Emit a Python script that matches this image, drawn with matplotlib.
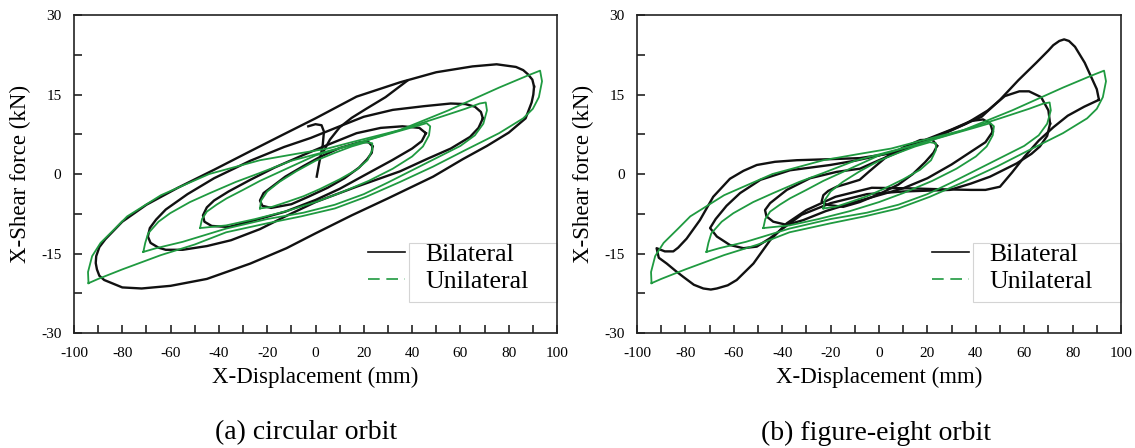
import matplotlib
matplotlib.use('Agg')
import matplotlib.pyplot as plt
from matplotlib.lines import Line2D
from matplotlib.patches import Rectangle
from matplotlib.ticker import MultipleLocator

plt.rcParams['font.family'] = 'Liberation Serif'
plt.rcParams['axes.unicode_minus'] = False

# ---------------------------------------------------------------
# data (displacement mm, shear force kN)
# ---------------------------------------------------------------

# (a) circular orbit, bilateral loops
a_bi1_x = [23.6, 22, 18.4, 10, 2.2, -5, -12.5, -18, -21.5, -23, -22, -18.4, -10, -3, 5, 12, 18, 21.4, 23.3, 23.6]
a_bi1_y = [5.2, 6, 6, 4.9, 3.3, 1.5, -0.5, -2.4, -3.6, -5, -6, -6.4, -5.7, -4.3, -2.6, -0.8, 1.2, 2.8, 4, 5.2]

a_bi2_x = [45.7, 43, 36, 27, 17, 5, -5, -17, -27, -36, -42, -45, -46.6, -46, -43, -36, -25, -12.5, 0, 10, 20,
           31.7, 40, 44, 45.7]
a_bi2_y = [7.7, 8.7, 9, 8.7, 7.7, 5.5, 3.6, 1.2, -1.1, -3.3, -5, -6.3, -7.8, -9, -9.8, -10, -8.7, -7.1, -4.9, -2.8,
           -0.3, 2.6, 4.8, 6.2, 7.7]

a_bi3_x = [69.3, 68.5, 66, 62, 56, 45, 32, 20, 10, -2, -13, -27, -42, -53, -62, -66, -68.6, -69.4, -68.3, -65,
           -62, -55, -45, -35, -23, -12.5, 0, 17, 35, 46, 56, 64, 67.5, 69.3]
a_bi3_y = [10.5, 11.7, 12.7, 13.2, 13.3, 12.8, 12.1, 10.8, 9, 6.8, 5.1, 2.5, -0.8, -3.8, -6.7, -8.6, -10.2, -11.8,
           -13, -13.9, -14.3, -14.3, -13.6, -12.5, -10.4, -8, -5.3, -2.4, 0.5, 2.8, 4.8, 7, 8.7, 10.5]

a_bi4_x = [90.5, 89.8, 88, 86, 83, 75, 65, 50, 35, 17, 0, -14, -27, -42, -57, -70, -80, -87, -89.5, -90.8, -91,
           -90.5, -89.5, -87.5, -80, -72, -60, -45, -27, -12, 0, 15, 30, 48.7, 61, 71, 80, 87, 89.5, 90.2, 90.5]
a_bi4_y = [16.5, 17.8, 18.8, 19.6, 20.2, 20.7, 20.3, 19.2, 17.3, 14.6, 10.5, 7.3, 4.3, 0.8, -2.6, -5.8, -9, -12.3,
           -13.8, -15.5, -16.8, -18, -19.2, -20, -21.4, -21.6, -21.1, -19.8, -16.9, -14, -11.2, -7.8, -4.6, -0.5,
           2.8, 5.3, 7.8, 10.5, 13.5, 15, 16.5]

# transition paths near the origin
a_tr1_x = [0.5, 1.5, 3, 3.5, 2.5, 0, -3]
a_tr1_y = [-0.5, 2, 5.5, 8, 9.2, 9.4, 9]
a_tr2_x = [3, 6, 10, 15, 21, 29, 38]
a_tr2_y = [4, 6.5, 8.8, 10.6, 12.3, 14.5, 17.6]

# (b) figure-eight orbit, bilateral loops
b_bi1_x = [24, 22, 17, 10, 3, -4, -8, -13, -17.5, -21, -23, -23.7, -21.6, -14.8, -8, 0, 8, 14, 19, 22.5, 24]
b_bi1_y = [5.3, 6.5, 6.4, 5, 3.2, 0.5, -1.1, -1.8, -2.4, -3.2, -4, -5.2, -5.8, -6.2, -5.3, -3.8, -2, 0, 2.2, 4, 5.3]

b_bi2_x = [47, 46, 43, 38, 30, 20, 10, 0, -7.9, -17.5, -28.5, -38.1, -45, -47.1, -46.5, -43.7, -38.1, -31.3,
           -22, -10, 0, 10, 20, 30, 38, 44, 47]
b_bi2_y = [8, 9.5, 10.3, 10, 8.4, 6.6, 4.5, 2.6, 1, 0.4, -0.8, -3, -5.5, -6.8, -8, -9, -9.6, -8.7,
           -7, -5.3, -4, -2.7, -0.8, 1.8, 4.2, 6, 8]

b_bi3_x = [70.7, 70, 67, 62, 58, 52, 45, 36, 25, 12, 0, -10, -20.2, -36.8, -49, -57.4, -63, -67.5, -69.8, -67,
           -61.6, -56, -50.5, -45, -39.5, -32, -20, -5, 10, 29.3, 38, 45.9, 56.9, 63, 66.5, 69.5, 70.7]
b_bi3_y = [9.5, 12, 14.5, 15.6, 15.6, 14.7, 12, 9.5, 7.2, 5, 3.5, 2.5, 1.7, 0.7, -1.1, -3.6, -6, -8.5, -10.2, -11.8,
           -13.4, -14, -13.7, -12.1, -10.2, -7.7, -5.5, -3.8, -3.3, -3, -1.8, -0.5, 2, 3.8, 5.2, 7.2, 9.5]

b_bi4_x = [90.9, 90, 88.5, 85, 81, 78.5, 76.5, 74.5, 72, 70, 65, 57.6, 50, 42.4, 33, 20, 5, -7.9, -20, -34,
           -43, -50.5, -56, -61.6, -68.5, -74, -79.5, -83, -85, -88.5, -91.9, -91, -87.7, -84, -80.9, -76.5,
           -72.6, -69.5, -67, -62.5, -58.8, -51.9, -45, -38.1, -30, -18, -3, 12, 27, 38, 44, 50, 55, 60, 66, 72,
           78, 84.8, 90.9]
b_bi4_y = [14, 16, 17.5, 21, 24, 25.1, 25.4, 25.1, 24.3, 23.3, 21, 17.7, 14, 10.8, 8.9, 6.4, 3.9, 3, 2.8, 2.6,
           2.3, 1.7, 0.6, -0.9, -4.3, -8.7, -12.2, -13.9, -14.6, -14.6, -14, -15.8, -16.9, -18.3, -19.4, -20.9,
           -21.6, -21.8, -21.6, -21, -20, -16.9, -12.5, -9.3, -6.8, -4.3, -2.6, -2.7, -2.9, -3, -3, -2.4, 0.3,
           3.2, 6.3, 8.8, 11, 12.7, 14]

# unilateral loops (same test in both panels)
uni1_x = [-23, -22.5, -20, -15, -8, 0, 8, 15, 21, 23.5, 23.5, 21.5, 17, 10, 2, -5, -12, -18, -23]
uni1_y = [-6.5, -5, -3.3, -1.5, 0.5, 2.5, 4, 5.2, 6, 5.8, 4.5, 2.6, 0.8, -1, -2.8, -4.2, -5.3, -6.2, -6.5]

uni2_x = [-47.8, -47, -45, -41, -36.8, -30, -23, -12, 0, 15, 30, 40, 46, 47.5, 47, 44.5, 40, 32, 22, 10,
          0, -12, -25, -37, -47.8]
uni2_y = [-10.2, -8.5, -7.1, -5.8, -4.6, -3, -1.3, 1, 3.5, 5.5, 7.5, 8.8, 9.6, 9, 7.3, 5.2, 3.3, 1, -1.3, -3.6,
          -5.3, -7, -8.5, -9.7, -10.2]

uni3_x = [-71.3, -70.5, -69.3, -65, -60.2, -52, -43.7, -33, -23, -10, 0, 15, 35, 50, 62, 68, 70.5, 71, 69.5, 66,
          60, 50, 40, 30, 20, 8, -5, -20, -37, -55, -66, -71.3]
uni3_y = [-14.7, -13, -11.2, -9, -7.4, -5.3, -3.6, -1.5, 0.2, 2.5, 3.7, 5.5, 8.3, 10.5, 12.3, 13.3, 13.5, 12, 9.5,
          7.3, 5.3, 3, 0.7, -1.6, -3.8, -5.8, -7.3, -8.5, -10.3, -12.8, -14, -14.7]

uni4_x = [-94, -94.2, -92.5, -89, -83, -78, -64, -44, -23, -8, 5, 15, 35, 55, 76, 88, 93, 93.8, 92.5, 90, 86,
          76, 62, 48.7, 35, 21, 8, -6, -20, -37, -50, -64, -80, -90, -94]
uni4_y = [-20.6, -18.5, -15.5, -13, -10.3, -8, -4, 0, 2.6, 3.8, 4.8, 6, 8.3, 12, 16.3, 18.6, 19.5, 17.5, 14.5,
          12.3, 10.5, 7.7, 4.5, 1.4, -1.5, -4.3, -6.5, -8, -9.3, -11, -13.3, -15.3, -18, -19.8, -20.6]

series_labels = ['Bilateral', 'Unilateral']
captions = ['(a) circular orbit', '(b) figure-eight orbit']

#%%
# ---------------------------------------------------------------
# plot
# ---------------------------------------------------------------
black = '#111111'
green = '#1f9a40'

fig = plt.figure(figsize=(11.35, 4.48), dpi=100)
ax_a = fig.add_axes([74 / 1135, 1 - 333 / 448, 483 / 1135, 318 / 448])
ax_b = fig.add_axes([637 / 1135, 1 - 333 / 448, 484 / 1135, 318 / 448])

bil_a = [(a_bi1_x, a_bi1_y), (a_bi2_x, a_bi2_y), (a_bi3_x, a_bi3_y), (a_bi4_x, a_bi4_y),
         (a_tr1_x, a_tr1_y), (a_tr2_x, a_tr2_y)]
bil_b = [(b_bi1_x, b_bi1_y), (b_bi2_x, b_bi2_y), (b_bi3_x, b_bi3_y), (b_bi4_x, b_bi4_y)]
uni = [(uni1_x, uni1_y), (uni2_x, uni2_y), (uni3_x, uni3_y), (uni4_x, uni4_y)]

for ax, bil in [(ax_a, bil_a), (ax_b, bil_b)]:
    for xs, ys in bil:
        ax.plot(xs, ys, color=black, lw=1.7, solid_joinstyle='round')
    for xs, ys in uni:
        ax.plot(xs, ys, color=green, lw=1.3, solid_joinstyle='round')

    ax.set_xlim(-100, 100)
    ax.set_ylim(-30, 30)
    ax.xaxis.set_major_locator(MultipleLocator(20))
    ax.xaxis.set_minor_locator(MultipleLocator(10))
    ax.yaxis.set_major_locator(MultipleLocator(15))
    ax.yaxis.set_minor_locator(MultipleLocator(7.5))
    ax.tick_params(which='both', direction='in', length=6, width=1.2, top=False, right=False,
                   color='#222222', labelsize=11)
    ax.tick_params(axis='x', pad=10)
    ax.tick_params(axis='y', pad=9)
    for s in ax.spines.values():
        s.set_linewidth(1.2)
        s.set_color('#222222')

    ax.set_xlabel('X-Displacement (mm)', fontsize=16.5)
    ax.set_ylabel('X-Shear force (kN)', fontsize=16.5)
    ax.xaxis.set_label_coords(0.5, -0.105)
    ax.yaxis.set_label_coords(-0.088, 0.5)

    # legend: handles sit outside a faint box around the labels
    handles = [Line2D([], [], color=black, lw=1.2),
               Line2D([], [], color=green, lw=1.2, dashes=(7, 4))]
    ax.legend(handles, series_labels, loc='center left', bbox_to_anchor=(0.609, 0.204),
              frameon=False, borderpad=0, borderaxespad=0, handlelength=1.45, handletextpad=0.78,
              labelspacing=0.17, fontsize=18.5)
    ax.add_patch(Rectangle((0.694, 0.0975), 0.306, 0.1855, transform=ax.transAxes,
                           fill=False, ec='#d4d4d4', lw=0.8, clip_on=False))

fig.text(306 / 1135, 1 - 433 / 448, captions[0], ha='center', va='center', fontsize=20)
fig.text(876 / 1135, 1 - 433 / 448, captions[1], ha='center', va='center', fontsize=20)

fig.savefig('out.png', dpi=100)
